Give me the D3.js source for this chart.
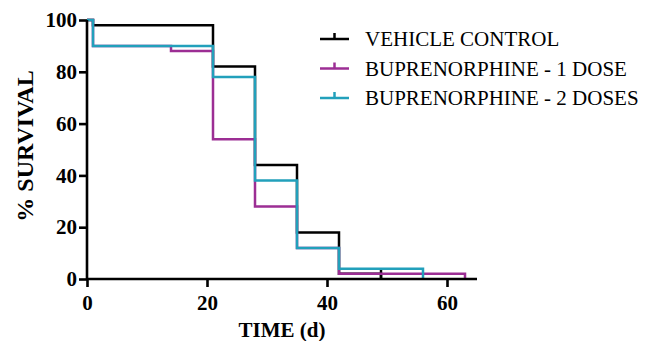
<!DOCTYPE html>
<html><head><meta charset="utf-8">
<script src="https://cdn.jsdelivr.net/npm/d3@7"></script>
<style>body{margin:0;background:#fff}svg{display:block}</style>
</head><body>
<svg id="c" width="648" height="341"></svg>
<script>
const seriesNames = ["VEHICLE CONTROL", "BUPRENORPHINE - 1 DOSE", "BUPRENORPHINE - 2 DOSES"];
const seriesColors = ["#000000", "#9c2e94", "#22a0bb"];
const controlTimes = [0, 1, 21, 28, 35, 42, 49];
const controlValues = [100, 98, 82, 44, 18, 2, 0];
const dose1Times = [0, 1, 14, 21, 28, 35, 42, 63];
const dose1Values = [100, 90, 88, 54, 28, 12, 2, 0];
const dose2Times = [0, 1, 21, 28, 35, 42, 56];
const dose2Values = [100, 90, 78, 38, 12, 4, 0];
const controlCensorTimes = [49];
const controlCensorValues = [2];
const xTicks = [0, 20, 40, 60];
const yTicks = [0, 20, 40, 60, 80, 100];

const svg = d3.select("#c");
const x = d3.scaleLinear().domain([0, 65]).range([87, 477]);
const y = d3.scaleLinear().domain([0, 100]).range([279, 20]);
const font = "'Liberation Serif','Times New Roman',serif";

const series = [
  {times: controlTimes, values: controlValues, censT: controlCensorTimes, censV: controlCensorValues},
  {times: dose1Times, values: dose1Values, censT: [], censV: []},
  {times: dose2Times, values: dose2Values, censT: [], censV: []}
];
const line = d3.line().x(d => x(d[0])).y(d => y(d[1])).curve(d3.curveStepAfter);

series.forEach((s, i) => {
  const pts = s.times.map((t, j) => [t, s.values[j]]);
  svg.append("path").attr("d", line(pts)).attr("fill", "none")
    .attr("stroke", seriesColors[i]).attr("stroke-width", 2.5);
  s.censT.forEach((t, j) => {
    svg.append("line").attr("x1", x(t)).attr("x2", x(t))
      .attr("y1", y(s.censV[j]) + 5).attr("y2", y(s.censV[j]) - 5)
      .attr("stroke", seriesColors[i]).attr("stroke-width", 2.5);
  });
});

// axes
const xAxis = svg.append("g").attr("transform", "translate(0,279)")
  .call(d3.axisBottom(x).tickValues(xTicks).tickSize(8).tickPadding(8).tickFormat(d3.format("d")));
const yAxis = svg.append("g").attr("transform", "translate(87,0)")
  .call(d3.axisLeft(y).tickValues(yTicks).tickSize(8).tickPadding(2).tickFormat(d3.format("d")));
[xAxis, yAxis].forEach(g => {
  g.select(".domain").attr("stroke", "#000").attr("stroke-width", 2.6);
  g.selectAll(".tick line").attr("stroke", "#000").attr("stroke-width", 2.6);
  g.selectAll(".tick text").attr("fill", "#000").style("font-family", font)
    .style("font-size", "21px").style("font-weight", "bold");
});
xAxis.select(".domain").attr("d", `M${x(0)},0H${x(65)}`);
yAxis.select(".domain").attr("d", `M0,${y(0)}V${y(100)}`);

svg.append("text").attr("x", 282).attr("y", 337).attr("text-anchor", "middle")
  .style("font-family", font).style("font-size", "21px").style("font-weight", "bold")
  .text("TIME (d)");
svg.append("text").attr("transform", "translate(33,146) rotate(-90)").attr("text-anchor", "middle")
  .style("font-family", font).style("font-size", "24px").style("font-weight", "bold")
  .text("% SURVIVAL");

// legend
const lg = svg.append("g");
seriesNames.forEach((n, i) => {
  const yy = 39 + i * 29.5;
  lg.append("line").attr("x1", 320).attr("x2", 349).attr("y1", yy).attr("y2", yy)
    .attr("stroke", seriesColors[i]).attr("stroke-width", 2.5);
  lg.append("line").attr("x1", 334.5).attr("x2", 334.5).attr("y1", yy).attr("y2", yy - 6)
    .attr("stroke", seriesColors[i]).attr("stroke-width", 2.5);
  lg.append("text").attr("x", 365).attr("y", yy + 7)
    .style("font-family", font).style("font-size", "21px").attr("fill", "#000").text(n);
});
</script>
</body></html>
